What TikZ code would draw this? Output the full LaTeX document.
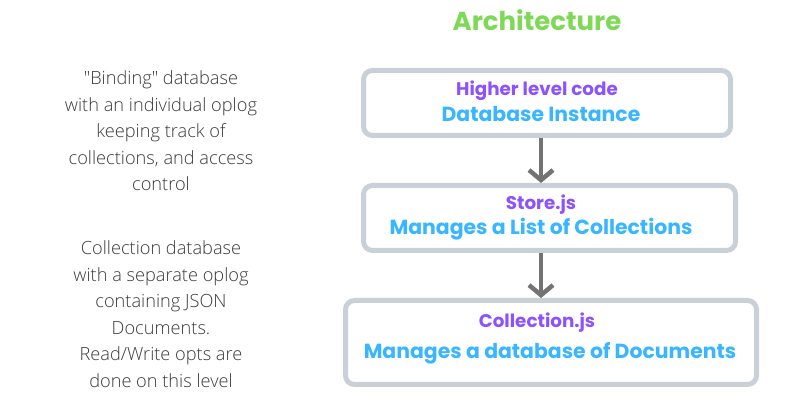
\documentclass[tikz,border=0pt]{standalone}
\usepackage{fontspec}
\setmainfont{Poppins}
\newfontfamily\descfont{Open Sans}[UprightFont=* Light]
\usetikzlibrary{arrows.meta}
\definecolor{titlegreen}{HTML}{7ED957}
\definecolor{hpurple}{HTML}{8C52FF}
\definecolor{hblue}{HTML}{38B6FF}
\definecolor{boxgray}{HTML}{C9D0D8}
\definecolor{arrgray}{HTML}{737373}
\definecolor{descgray}{HTML}{3A3A3A}
\tikzset{
  layerbox/.style={draw=boxgray, line width=5pt, rounded corners=9pt, fill=white, inner sep=0pt},
  headtext/.style={text=hpurple, font=\bfseries\fontsize{18.3}{21}\selectfont, inner sep=0pt},
  bodytext/.style={text=hblue, font=\bfseries\fontsize{20.4}{24}\selectfont, inner sep=0pt},
  desctext/.style={text=descgray, font=\descfont\fontsize{18.2}{26.5}\selectfont, align=center, inner sep=0pt},
  flowarrow/.style={draw=arrgray, line width=4.5pt, -{Straight Barb[length=10pt,width=24pt]}}
}
\begin{document}
\begin{tikzpicture}[x=1pt,y=-1pt]
\useasboundingbox (0,0) rectangle (796,403);
\node[text=titlegreen, font=\bfseries\fontsize{26}{30}\selectfont, inner sep=0pt] (title) at (537,20) {Architecture};
\node[layerbox, minimum width=367pt, minimum height=65pt] (b1) at (547,103) {};
\node[layerbox, minimum width=372pt, minimum height=65pt] (b2) at (549.5,218) {};
\node[layerbox, minimum width=411pt, minimum height=84pt] (b3) at (551,342.5) {};
\node[headtext] (h1) at (537,91) {Higher level code};
\node[bodytext] (t1) at (541,114) {Database Instance};
\node[headtext] (h2) at (541,205) {Store.js};
\node[bodytext] (t2) at (541,229) {Manages a List of Collections};
\node[headtext] (h3) at (537,323) {Collection.js};
\node[bodytext] (t3) at (550,353) {Manages a database of Documents};
\draw[flowarrow] ([xshift=-6pt]b1.south) -- ([xshift=-8.5pt]b2.north);
\draw[flowarrow] ([xshift=-8.5pt]b2.south) -- ([xshift=-10pt]b3.north);
\node[desctext] (d1) at (161,131) {"Binding" database\\with an individual oplog\\keeping track of\\collections, and access\\control};
\node[desctext] (d2) at (161,314) {Collection database\\with a separate oplog\\containing JSON\\Documents.\\Read/Write opts are\\done on this level};
\end{tikzpicture}
\end{document}
